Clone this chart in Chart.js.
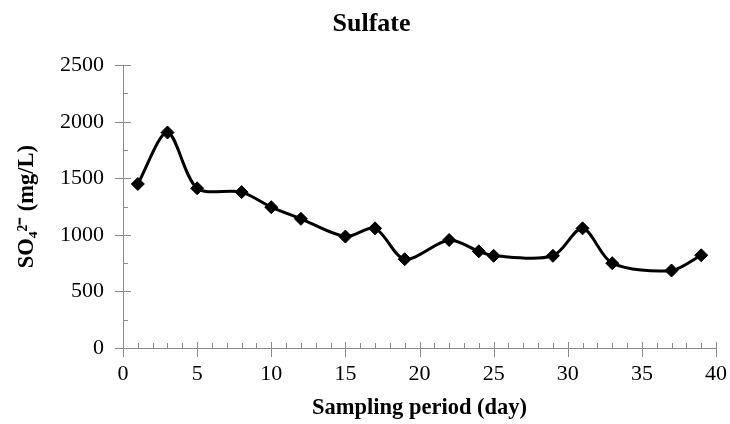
<!DOCTYPE html>
<html>
<head>
<meta charset="utf-8">
<script src="https://cdn.jsdelivr.net/npm/chart.js@4/dist/chart.umd.min.js"></script>
<style>
  html, body { margin: 0; padding: 0; background: #ffffff; }
  #wrap { width: 730px; height: 424px; }
</style>
</head>
<body>
<div id="wrap"><canvas id="c" width="730" height="424"></canvas></div>
<script>
// ---- data ----
const days = [1, 3, 5, 8, 10, 12, 15, 17, 19, 22, 24, 25, 29, 31, 33, 37, 39];
const sulfate = [1450, 1905, 1412, 1378, 1245, 1142, 985, 1058, 785, 955, 855, 815, 815, 1058, 750, 685, 820];
const yTicks = [0, 500, 1000, 1500, 2000, 2500];
const xTicks = [0, 5, 10, 15, 20, 25, 30, 35, 40];

const chartTitle = 'Sulfate';
const xTitle = 'Sampling period (day)';
const yTitle = 'SO\u2084\u00B2\u207B (mg/L)';

const points = days.map((d, i) => ({ x: d, y: sulfate[i] }));
const serif = "'Liberation Serif', 'Times New Roman', serif";
const axisGray = '#8a8a8a';

// draws the crossing major ticks and inner minor ticks, like the reference
const tickMarks = {
  id: 'tickMarks',
  afterDraw(chart) {
    const ctx = chart.ctx;
    const xs = chart.scales.x, ys = chart.scales.y;
    const ax = xs.getPixelForValue(0) , ay = ys.getPixelForValue(0);
    ctx.save();
    ctx.strokeStyle = axisGray;
    ctx.lineWidth = 1;
    ctx.beginPath();
    for (let v = 0; v <= 2500; v += 250) {
      const py = Math.round(ys.getPixelForValue(v)) + 0.5;
      if (v % 500 === 0) { ctx.moveTo(ax - 8, py); ctx.lineTo(ax + 8, py); }
      else { ctx.moveTo(ax, py); ctx.lineTo(ax + 5, py); }
    }
    for (let d = 0; d <= 40; d += 1) {
      const px = Math.round(xs.getPixelForValue(d)) + 0.5;
      if (d % 5 === 0) { ctx.moveTo(px, ay - 6); ctx.lineTo(px, ay + 9); }
      else { ctx.moveTo(px, ay); ctx.lineTo(px, ay - 5); }
    }
    ctx.stroke();
    ctx.restore();
  }
};

new Chart(document.getElementById('c'), {
  type: 'line',
  data: {
    datasets: [{
      label: 'Sulfate',
      data: points,
      borderColor: '#000000',
      backgroundColor: '#000000',
      borderWidth: 3,
      tension: 0.3,
      pointStyle: 'rectRot',
      pointRadius: 6.5,
      pointBorderWidth: 1,
      pointBackgroundColor: '#000000',
      pointBorderColor: '#000000',
      fill: false
    }]
  },
  options: {
    responsive: false,
    animation: false,
    layout: { padding: { left: 27, right: 14, top: 0, bottom: 0 } },
    plugins: {
      legend: { display: false },
      tooltip: { enabled: false },
      title: {
        display: true,
        text: chartTitle,
        color: '#000000',
        font: { family: serif, size: 26, weight: 'bold', lineHeight: 1.2 },
        padding: { top: 9, bottom: 25 }
      }
    },
    scales: {
      x: {
        type: 'linear',
        min: 0,
        max: 40,
        afterBuildTicks(scale) { scale.ticks = xTicks.map(v => ({ value: v })); },
        afterFit(scale) { scale.height = 76; scale.paddingLeft = 0; scale.paddingRight = 0; },
        grid: { display: false, drawTicks: false },
        border: { display: true, color: axisGray, width: 1 },
        ticks: {
          color: '#000000',
          padding: 13,
          maxRotation: 0,
          autoSkip: false,
          font: { family: serif, size: 22 },
          callback: v => String(v)
        },
        title: {
          display: true,
          text: xTitle,
          color: '#000000',
          font: { family: serif, size: 22.5, weight: 'bold', lineHeight: 1.2 },
          padding: { top: 0, bottom: 2 }
        }
      },
      y: {
        type: 'linear',
        min: 0,
        max: 2500,
        afterBuildTicks(scale) { scale.ticks = yTicks.map(v => ({ value: v })); },
        afterFit(scale) { scale.width = 96; },
        grid: { display: false, drawTicks: false },
        border: { display: true, color: axisGray, width: 1 },
        ticks: {
          color: '#000000',
          padding: 19,
          autoSkip: false,
          font: { family: serif, size: 22 },
          callback: v => String(v)
        },
        title: {
          display: true,
          text: yTitle,
          color: '#000000',
          font: { family: serif, size: 22.5, weight: 'bold', lineHeight: 0 },
          padding: { top: 0, bottom: 0 }
        }
      }
    }
  },
  plugins: [tickMarks]
});
</script>
</body>
</html>
